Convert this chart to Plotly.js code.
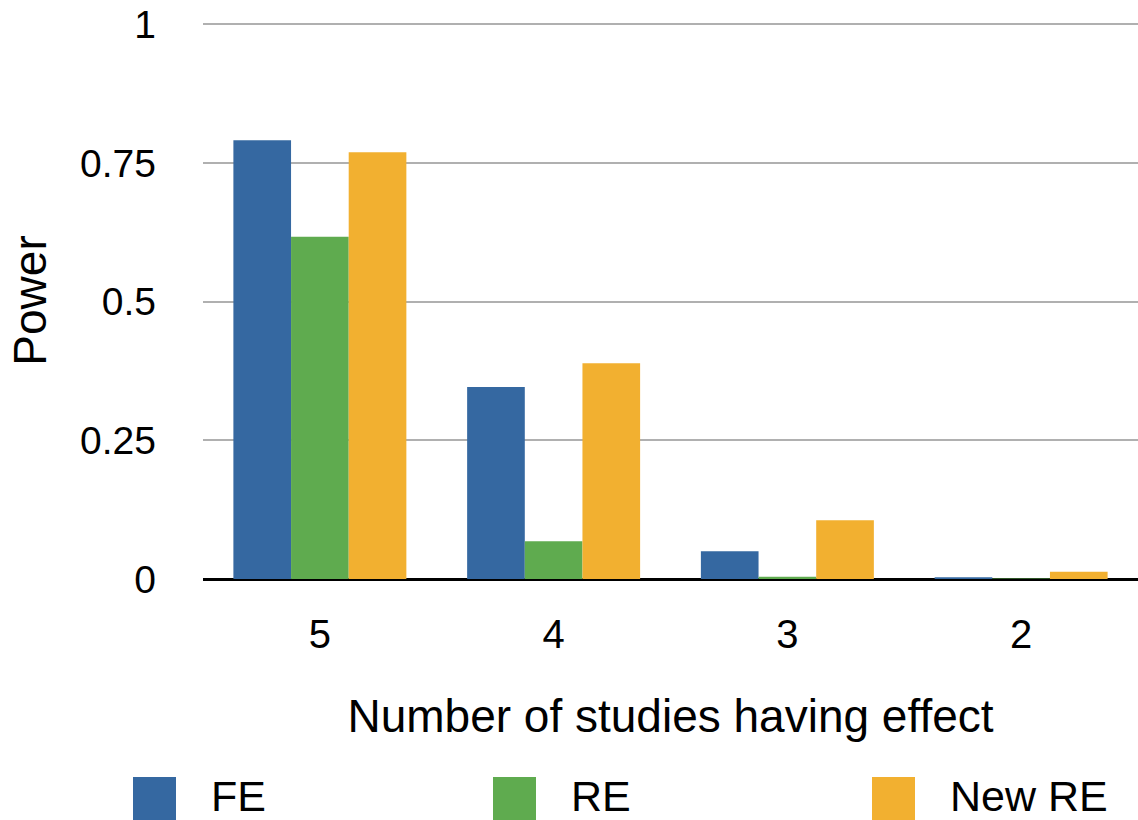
<!DOCTYPE html>
<html>
<head>
<meta charset="utf-8">
<script src="https://cdn.plot.ly/plotly-3.0.1.min.js"></script>
<style>html,body{margin:0;padding:0;background:#fff;}#chart{width:1138px;height:820px;}</style>
</head>
<body>
<div id="chart"></div>
<script>
const categories = ["5", "4", "3", "2"];
const seriesNames = ["FE", "RE", "New RE"];
const feValues = [0.791, 0.346, 0.050, 0.003];
const reValues = [0.617, 0.068, 0.004, 0.001];
const newReValues = [0.769, 0.389, 0.106, 0.013];
const yTickVals = [0, 0.25, 0.5, 0.75, 1];
const yTickText = ["0", "0.25", "0.5", "0.75", "1"];

const colors = ["#3568a1", "#5fab4f", "#f2b030"];
const allValues = [feValues, reValues, newReValues];
const FONT = "Liberation Sans, Arial, Helvetica, sans-serif";

const traces = allValues.map((vals, i) => ({
  type: "bar",
  name: seriesNames[i],
  x: categories,
  y: vals,
  marker: {color: colors[i], line: {width: 0}},
  showlegend: false,
  hoverinfo: "x+y+name"
}));

// custom legend (paper coords)
const T = 22, L = 203, B = 579;
const W = 1138 - L, H = B - T;
const px = v => (v - L) / W;
const py = v => (B - v) / H;
const legendX = [133, 493, 872];
const shapes = [];
const annotations = [];
seriesNames.forEach((n, i) => {
  shapes.push({type: "rect", xref: "paper", yref: "paper",
    x0: px(legendX[i]), x1: px(legendX[i] + 43), y0: py(777), y1: py(845),
    fillcolor: colors[i], line: {width: 0}, layer: "above"});
  annotations.push({xref: "paper", yref: "paper", x: px(legendX[i] + 77), y: py(796),
    xanchor: "left", yanchor: "middle", text: n, showarrow: false, borderpad: 0,
    font: {family: FONT, size: 43, color: "#000"}});
});

const layout = {
  width: 1138, height: 820,
  margin: {l: L, r: 0, t: T, b: 820 - B, autoexpand: false},
  paper_bgcolor: "#fff", plot_bgcolor: "#fff",
  barmode: "group", bargap: 0.26, bargroupgap: 0,
  font: {family: FONT, color: "#000"},
  xaxis: {
    type: "category",
    tickfont: {size: 40, family: FONT},
    ticks: "", showgrid: false, showline: false, zeroline: false,
    ticklabelstandoff: 28,
    title: {text: "Number of studies having effect", font: {size: 46, family: FONT}, standoff: 44},
    automargin: false
  },
  yaxis: {
    range: [0, 1.004],
    tickvals: yTickVals, ticktext: yTickText,
    tickfont: {size: 39, family: FONT},
    ticks: "", showgrid: true, gridcolor: "#b0b0b0", gridwidth: 2,
    zeroline: true, zerolinecolor: "#000", zerolinewidth: 3,
    showline: false,
    ticklabelstandoff: 46,
    title: {text: "Power", font: {size: 46, family: FONT}, standoff: 18},
    automargin: false,
    fixedrange: true
  },
  shapes: shapes,
  annotations: annotations
};

Plotly.newPlot("chart", traces, layout, {displayModeBar: false, staticPlot: true});
</script>
</body>
</html>
